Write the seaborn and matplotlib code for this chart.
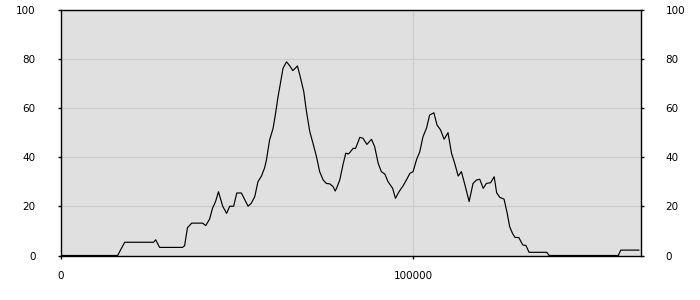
import matplotlib
matplotlib.use("Agg")
import matplotlib.pyplot as plt
import seaborn as sns
import pandas as pd

x_values = [0, 16200, 18200, 26400, 27000, 28100, 34600, 35200, 36000, 37200,
            40300, 41200, 42300, 43100, 44000, 44800, 46000, 47100, 48000, 49100,
            50000, 51300, 53200, 54100, 55100, 56000, 57000, 57900, 58400, 59300,
            60300, 61000, 61700, 62200, 63100, 64100, 65000, 65900, 67200, 68000,
            69000, 69700, 70700, 71600, 72600, 73500, 74500, 75400, 76400, 77300,
            77900, 78300, 79200, 80100, 80900, 81600, 82000, 83000, 83700, 84900,
            85800, 86900, 88200, 89100, 90100, 91000, 92000, 92900, 94200, 95000,
            96000, 97200, 98100, 99100, 100000, 101000, 101900, 102800, 103800, 104700,
            105900, 106800, 107800, 108800, 109900, 110900, 111800, 112800, 113700, 114700,
            115900, 117000, 118000, 118900, 119900, 120800, 122000, 123000, 123700, 124600,
            125800, 126700, 127400, 128200, 128900, 130000, 131100, 132000, 132900, 137900,
            138600, 158200, 158900, 164100]
y_values = [0, 0, 5.4, 5.4, 6.4, 3.3, 3.3, 4.0, 11.3, 13.2,
            13.2, 12.2, 14.9, 19.2, 22.1, 26.0, 20.1, 17.2, 20.1, 20.1,
            25.5, 25.5, 20.1, 21.3, 24.0, 30.1, 32.4, 35.8, 38.9, 47.1,
            51.9, 58.0, 64.8, 68.8, 76.3, 79.0, 77.4, 75.4, 77.3, 72.9,
            66.8, 59.3, 50.5, 45.8, 40.3, 34.2, 30.8, 29.4, 29.2, 28.1,
            26.3, 27.4, 30.8, 36.9, 41.7, 41.4, 41.9, 43.7, 43.7, 48.2,
            47.8, 45.3, 47.4, 44.4, 37.6, 34.2, 33.2, 30.1, 27.4, 23.3,
            26.0, 28.5, 30.8, 33.5, 34.2, 39.2, 42.3, 48.4, 51.9, 57.3,
            58.2, 53.2, 51.2, 47.4, 50.1, 41.7, 37.6, 32.4, 34.2, 28.8,
            22.0, 29.4, 30.8, 31.1, 27.4, 29.4, 29.7, 32.1, 25.6, 23.7,
            23.0, 17.2, 11.7, 9.0, 7.4, 7.3, 4.3, 4.1, 1.3, 1.3,
            0, 0, 2.2, 2.2]
x_ticks = [0, 100000]
y_ticks = [0, 20, 40, 60, 80, 100]

df = pd.DataFrame({"x": x_values, "y": y_values})

sns.set_theme(style="white")
plt.rcParams["font.family"] = ["DejaVu Sans"]

fig = plt.figure(figsize=(7, 3), dpi=100)
ax = fig.add_axes([60.5 / 700, 1 - 255.5 / 300, 580 / 700, 245.2 / 300])
ax.set_facecolor("#e0e0e0")

sns.lineplot(data=df, x="x", y="y", ax=ax, color="black", linewidth=0.85)

ax.set_xlim(0, 164500)
ax.set_ylim(0, 100)
ax.set_xticks(x_ticks)
ax.set_xticklabels([str(t) for t in x_ticks])
ax.set_yticks(y_ticks)
ax.set_yticklabels([str(t) for t in y_ticks])
ax.grid(True, color="#cccccc", linewidth=0.9)
ax.set_axisbelow(True)
ax.set_xlabel("")
ax.set_ylabel("")

for s in ax.spines.values():
    s.set_color("black")
    s.set_linewidth(1.0)

ax.tick_params(axis="y", which="both", left=True, right=True, labelleft=True,
               labelright=True, length=2.5, width=1, color="black", pad=15.5,
               labelsize=7.5, labelcolor="black")
ax.tick_params(axis="x", bottom=True, length=2.5, width=1, color="black",
               pad=9, labelsize=7.5, labelcolor="black")

fig.savefig("out.png", dpi=100)
